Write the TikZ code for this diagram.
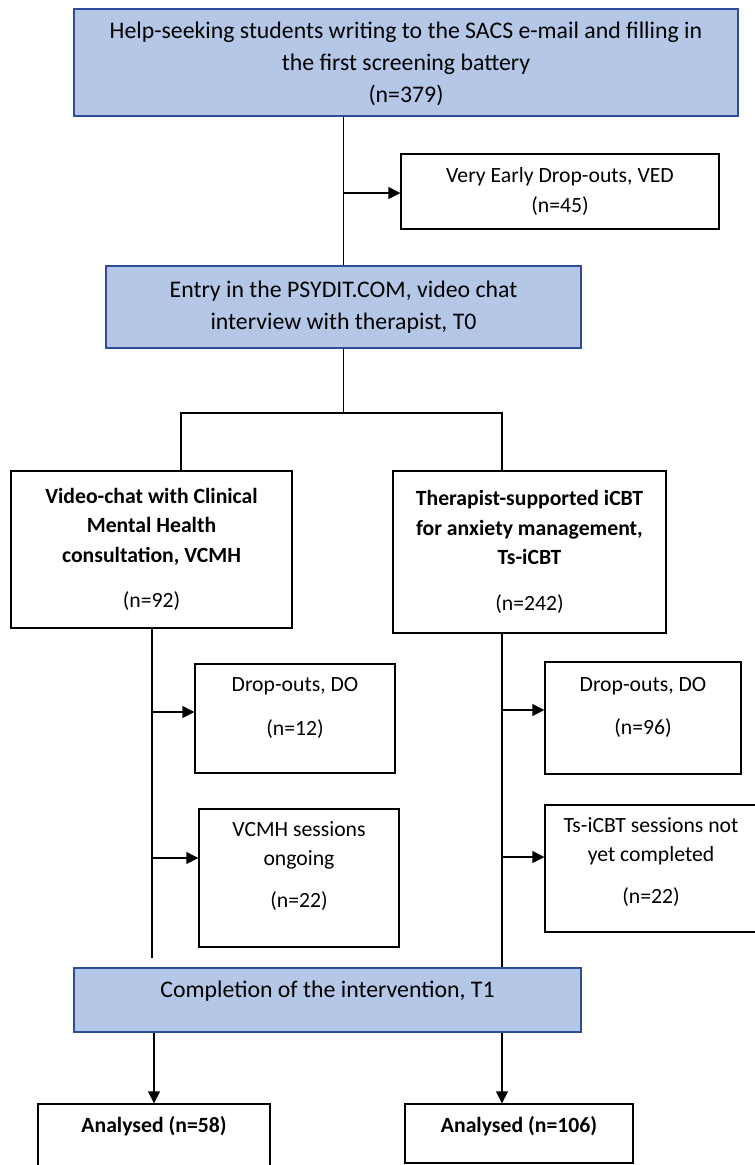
\documentclass[tikz,border=0pt]{standalone}
\usepackage{fontspec}
\setmainfont{Carlito}
\usetikzlibrary{positioning,arrows.meta}
\definecolor{stageblue}{HTML}{B4C7E7}
\definecolor{stageedge}{HTML}{2F4B9B}

\begin{document}
\begin{tikzpicture}[x=1pt, y=-1pt,
  box/.style={draw, line width=1.4pt, align=center, inner sep=0pt,
              font=\fontsize{21.7}{29.5}\selectfont},
  stage/.style={box, fill=stageblue, draw=stageedge, line width=2pt,
                font=\fontsize{23.8}{32}\selectfont},
  lift/.style={text depth=#1},
  link/.style={line width=1.4pt},
  arr/.style={link, -{Triangle[length=12pt,width=12pt]}},
]
\useasboundingbox (0,0) rectangle (755,1165);

% ---- Screening and entry ----
\node[stage, lift=0pt, minimum width=664pt, minimum height=107pt] (screen) at (406,62.5)
  {Help-seeking students writing to the SACS e-mail and filling in\\
   the first screening battery\\(n=379)};
\node[box, minimum width=318pt, minimum height=75pt] (ved) at (560,191.5)
  {Very Early Drop-outs, VED\\(n=45)};
\node[stage, minimum width=475pt, minimum height=82pt] (entry) at (343.5,307)
  {Entry in the PSYDIT.COM, video chat\\interview with therapist, T0};

\draw[link] (screen.south -| entry.north) -- (entry.north);
\draw[arr] ([yshift=-1.5pt]ved.west -| entry.north) -- ([yshift=-1.5pt]ved.west);

% ---- Two arms ----
\coordinate (fork) at (343.5,413);
\coordinate (forkL) at (181,413);
\coordinate (forkR) at (502,413);

\node[box, minimum width=281pt, minimum height=157pt] (vcmh) at (151.5,549.5)
  {\textbf{Video-chat with Clinical}\\\textbf{Mental Health}\\
   \textbf{consultation, VCMH}\\[16pt](n=92)};
\node[box, minimum width=273pt, minimum height=162pt] (ts) at (529.5,552)
  {\textbf{Therapist-supported iCBT}\\\textbf{for anxiety management,}\\
   \textbf{Ts-iCBT}\\[16pt](n=242)};

\draw[link] (entry.south) -- (fork);
\draw[link] (vcmh.north -| forkL) -- (forkL) -- (forkR) -- (ts.north -| forkR);

% ---- Left arm: VCMH ----
\coordinate (trunkL) at (152,958);
\node[box, lift=24pt, minimum width=200pt, minimum height=109pt] (doL) at (295,718.5)
  {Drop-outs, DO\\[14pt](n=12)};
\node[box, lift=27pt, minimum width=200pt, minimum height=138pt] (sesL) at (299,878)
  {VCMH sessions\\ongoing\\[12pt](n=22)};

\draw[link] (vcmh.south -| trunkL) -- (trunkL);
\draw[arr] ([yshift=6.5pt]doL.west -| trunkL) -- ([yshift=6.5pt]doL.west);
\draw[arr] ([yshift=20pt]sesL.west -| trunkL) -- ([yshift=20pt]sesL.west);

% ---- Right arm: Ts-iCBT ----
\node[box, lift=24pt, minimum width=196pt, minimum height=112pt] (doR) at (643,718)
  {Drop-outs, DO\\[14pt](n=96)};
\node[box, lift=16pt, minimum width=212pt, minimum height=127pt] (sesR) at (651,868.5)
  {Ts-iCBT sessions not\\yet completed\\[12pt](n=22)};

\node[stage, lift=21pt, minimum width=507pt, minimum height=64pt] (done) at (327.5,1000)
  {Completion of the intervention, T1};

\draw[link] (ts.south -| forkR) -- (done.north -| forkR);
\draw[arr] ([yshift=8pt]doR.west -| forkR) -- ([yshift=8pt]doR.west);
\draw[arr] ([yshift=11.5pt]sesR.west -| forkR) -- ([yshift=11.5pt]sesR.west);

% ---- Analysed ----
\node[box, lift=24pt, minimum width=232pt, minimum height=64pt] (anL) at (154,1136)
  {\textbf{Analysed (n=58)}};
\node[box, lift=18pt, minimum width=228pt, minimum height=59pt] (anR) at (519,1133.5)
  {\textbf{Analysed (n=106)}};

\draw[arr] (done.south -| anL.north) -- (anL.north);
\draw[arr] (done.south -| forkR) -- (anR.north -| forkR);

\end{tikzpicture}
\end{document}
